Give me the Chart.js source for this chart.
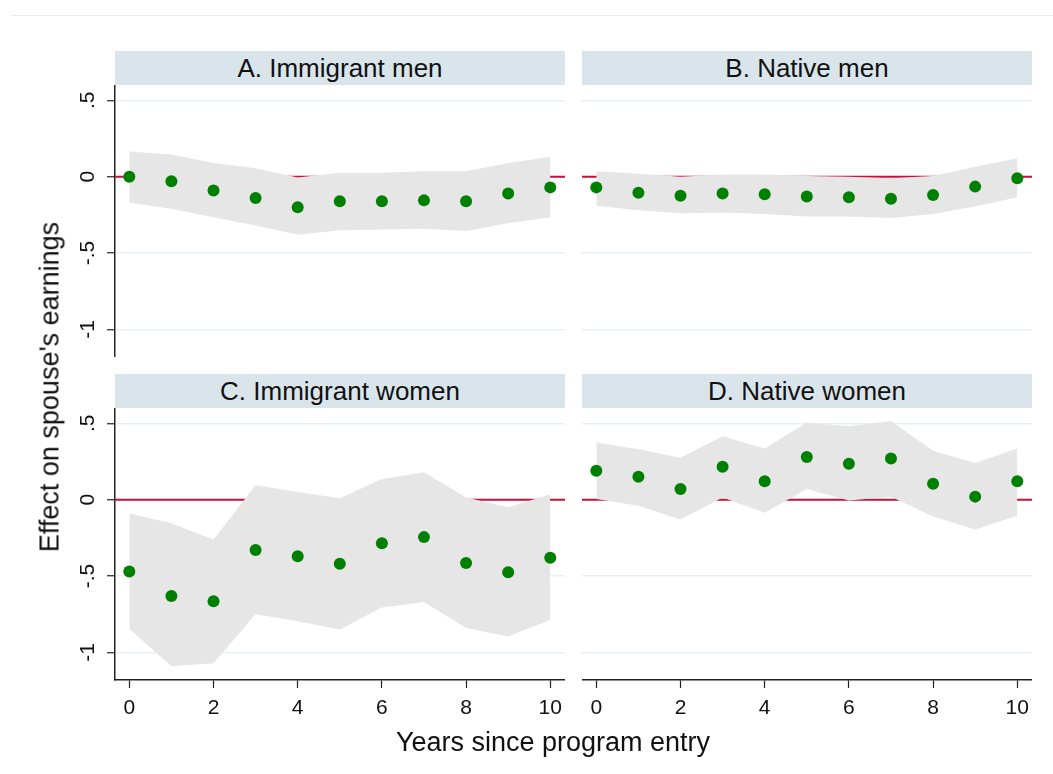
<!DOCTYPE html>
<html>
<head>
<meta charset="utf-8">
<script src="https://cdn.jsdelivr.net/npm/chart.js@4.4.1/dist/chart.umd.min.js"></script>
<style>
  html, body { margin: 0; padding: 0; background: #fff; }
  body { width: 1053px; height: 774px; position: relative; overflow: hidden;
         font-family: "Liberation Sans", Arial, sans-serif; color: #111; }
  .topline { position: absolute; left: 11px; top: 15px; width: 1042px; height: 0; border-top: 1px solid #ececec; }
  .strip { position: absolute; height: 34px; background: #d9e5eb; text-align: center;
           font-size: 26px; line-height: 34px; color: #111; }
  .panel { position: absolute; }
  .ytitle { position: absolute; left: 50px; top: 387px; transform: translate(-50%, -50%) rotate(-90deg);
            white-space: nowrap; font-size: 27px; }
  .xtitle { position: absolute; left: 553px; top: 742px; transform: translate(-50%, -50%);
            white-space: nowrap; font-size: 27px; }
</style>
</head>
<body>
<div class="topline"></div>

<div class="strip" style="left:115px; top:51px; width:450px;">A. Immigrant men</div>
<div class="strip" style="left:582px; top:51px; width:450px;">B. Native men</div>
<div class="strip" style="left:115px; top:374px; width:450px;">C. Immigrant women</div>
<div class="strip" style="left:582px; top:374px; width:450px;">D. Native women</div>

<div class="panel" style="left:60px; top:85px; width:505px; height:272px;"><canvas id="chartA"></canvas></div>
<div class="panel" style="left:582px; top:85px; width:450px; height:272px;"><canvas id="chartB"></canvas></div>
<div class="panel" style="left:60px; top:408px; width:505px; height:320px;"><canvas id="chartC"></canvas></div>
<div class="panel" style="left:582px; top:408px; width:450px; height:320px;"><canvas id="chartD"></canvas></div>

<div class="ytitle">Effect on spouse's earnings</div>
<div class="xtitle">Years since program entry</div>

<script>
// years since entry
const years = [0, 1, 2, 3, 4, 5, 6, 7, 8, 9, 10];
const xTickVals = [0, 2, 4, 6, 8, 10];
const yTickVals = [-1, -0.5, 0, 0.5];
const yTickLabels = ['-1', '-.5', '0', '.5'];

// A. Immigrant men
const aEst = [0.00, -0.03, -0.09, -0.14, -0.20, -0.16, -0.16, -0.155, -0.16, -0.11, -0.07];
const aHi  = [0.165, 0.145, 0.09, 0.055, -0.005, 0.025, 0.025, 0.035, 0.035, 0.09, 0.13];
const aLo  = [-0.17, -0.21, -0.265, -0.32, -0.38, -0.35, -0.345, -0.34, -0.355, -0.305, -0.265];

// B. Native men
const bEst = [-0.07, -0.105, -0.125, -0.11, -0.115, -0.13, -0.135, -0.145, -0.12, -0.065, -0.01];
const bHi  = [0.035, 0.02, 0.0, 0.015, 0.015, 0.005, 0.0, -0.01, 0.005, 0.065, 0.12];
const bLo  = [-0.19, -0.22, -0.24, -0.235, -0.245, -0.26, -0.26, -0.27, -0.245, -0.195, -0.135];

// C. Immigrant women
const cEst = [-0.47, -0.63, -0.665, -0.33, -0.37, -0.42, -0.285, -0.245, -0.415, -0.475, -0.38];
const cHi  = [-0.09, -0.155, -0.26, 0.095, 0.05, 0.01, 0.135, 0.18, 0.015, -0.05, 0.035];
const cLo  = [-0.845, -1.09, -1.07, -0.75, -0.795, -0.85, -0.705, -0.67, -0.84, -0.895, -0.785];

// D. Native women
const dEst = [0.19, 0.15, 0.07, 0.215, 0.12, 0.28, 0.235, 0.27, 0.105, 0.02, 0.12];
const dHi  = [0.375, 0.33, 0.275, 0.415, 0.335, 0.505, 0.48, 0.515, 0.32, 0.24, 0.335];
const dLo  = [0.005, -0.04, -0.13, 0.015, -0.085, 0.07, -0.005, 0.02, -0.11, -0.195, -0.105];

Chart.defaults.font.family = '"Liberation Sans", Arial, sans-serif';
Chart.defaults.color = '#111';

const toPts = (arr) => arr.map((v, i) => ({ x: years[i], y: v }));

// red reference line at zero, drawn under the band
const zeroLine = {
    id: 'zeroLine',
    beforeDatasetsDraw(chart) {
        const { ctx, chartArea, scales } = chart;
        const y = scales.y.getPixelForValue(0);
        ctx.save();
        ctx.strokeStyle = '#c8103c';
        ctx.lineWidth = 2;
        ctx.beginPath();
        ctx.moveTo(chartArea.left, y);
        ctx.lineTo(chartArea.right, y);
        ctx.stroke();
        ctx.restore();
    }
};

// Stata-style vertical y tick labels
const yLabels = {
    id: 'yLabels',
    afterDraw(chart, args, opts) {
        if (!opts.show) return;
        const ys = chart.scales.y;
        const ctx = chart.ctx;
        ctx.save();
        ctx.font = '21px "Liberation Sans", Arial, sans-serif';
        ctx.fillStyle = '#111';
        ctx.textAlign = 'center';
        ctx.textBaseline = 'middle';
        yTickVals.forEach((v, i) => {
            ctx.save();
            ctx.translate(ys.right - 27, ys.getPixelForValue(v));
            ctx.rotate(-Math.PI / 2);
            ctx.fillText(yTickLabels[i], 0, 0);
            ctx.restore();
        });
        ctx.restore();
    }
};

function makePanel(canvasId, est, hi, lo, showY, showX) {
    const ctx = document.getElementById(canvasId);
    return new Chart(ctx, {
        type: 'line',
        data: {
            datasets: [
                {
                    data: toPts(est),
                    showLine: false,
                    pointRadius: 6,
                    pointBorderWidth: 0,
                    pointBackgroundColor: '#008000',
                    pointBorderColor: '#008000',
                    order: 0
                },
                {
                    data: toPts(hi),
                    borderWidth: 0,
                    pointRadius: 0,
                    fill: '+1',
                    backgroundColor: '#e6e6e6',
                    tension: 0,
                    order: 1
                },
                {
                    data: toPts(lo),
                    borderWidth: 0,
                    pointRadius: 0,
                    fill: false,
                    tension: 0,
                    order: 2
                }
            ]
        },
        options: {
            responsive: true,
            maintainAspectRatio: false,
            animation: false,
            layout: { padding: 0, autoPadding: false },
            plugins: {
                legend: { display: false },
                tooltip: { enabled: false },
                yLabels: { show: showY }
            },
            scales: {
                x: {
                    type: 'linear',
                    min: -0.34,
                    max: 10.35,
                    display: showX,
                    afterBuildTicks: (s) => { s.ticks = xTickVals.map(v => ({ value: v })); },
                    afterFit: (s) => {
                        s.height = showX ? 48 : 0;
                        s.paddingLeft = 0;
                        s.paddingRight = 0;
                    },
                    border: { display: true, color: '#222', width: 1.5 },
                    grid: { drawOnChartArea: false, drawTicks: true, tickLength: 8, tickColor: '#222', tickWidth: 1.2 },
                    ticks: { font: { size: 21 }, padding: 8, maxRotation: 0, color: '#111' }
                },
                y: {
                    type: 'linear',
                    min: -1.18,
                    max: 0.6,
                    afterBuildTicks: (s) => { s.ticks = yTickVals.map(v => ({ value: v })); },
                    afterFit: (s) => {
                        s.width = showY ? 55 : 0;
                        s.paddingTop = 0;
                        s.paddingBottom = 0;
                    },
                    border: { display: showY, color: '#222', width: 1.5 },
                    grid: { color: '#e9f1f3', lineWidth: 1.5, drawTicks: showY, tickLength: 8, tickColor: '#222', tickWidth: 1.2 },
                    ticks: { display: false }
                }
            }
        },
        plugins: [zeroLine, yLabels]
    });
}

makePanel('chartA', aEst, aHi, aLo, true, false);
makePanel('chartB', bEst, bHi, bLo, false, false);
makePanel('chartC', cEst, cHi, cLo, true, true);
makePanel('chartD', dEst, dHi, dLo, false, true);
</script>
</body>
</html>
